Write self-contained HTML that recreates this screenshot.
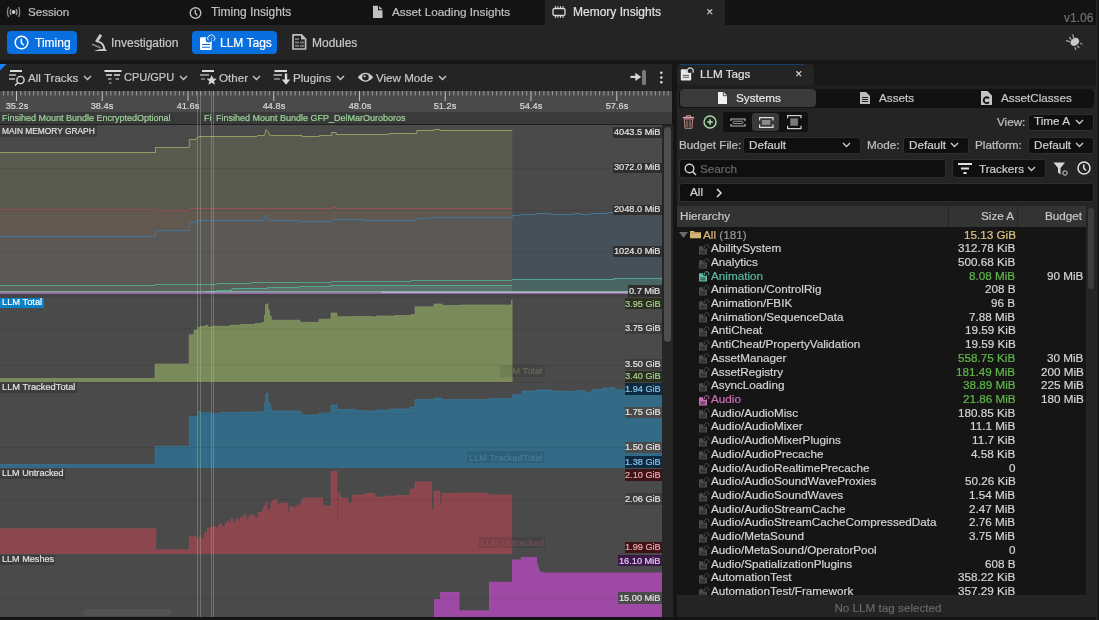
<!DOCTYPE html><html><head><meta charset="utf-8"><style>
html,body{margin:0;padding:0;width:1099px;height:620px;overflow:hidden;background:#151515;}
body{position:relative;font-family:"Liberation Sans",sans-serif;}
.t{position:absolute;white-space:nowrap;line-height:1;will-change:transform;-webkit-text-stroke:0.2px currentColor;}
.b{position:absolute;}
svg{position:absolute;overflow:visible;}
</style></head><body>
<div class="b" style="left:0px;top:0px;width:1099px;height:25px;background:#131313;"></div>
<div class="b" style="left:545px;top:0px;width:180px;height:25px;background:#242424;"></div>
<svg style="left:6px;top:6px;" width="16" height="12" viewBox="0 0 16 12"><circle cx="7.56" cy="6" r="1.9" fill="#cccccc"/><path d="M5 3 Q3.2 6 5 9 M10.1 3 Q11.9 6 10.1 9" stroke="#9a9a9a" stroke-width="1.3" fill="none"/><path d="M2.6 1 Q0.2 6 2.6 11 M12.5 1 Q14.9 6 12.5 11" stroke="#8a8a8a" stroke-width="1.3" fill="none"/></svg>
<div class="t" style="left:28.4px;top:6.38px;font-size:11.6px;color:#c0c0c0;">Session</div>
<svg style="left:189px;top:6.5px;" width="13" height="13" viewBox="0 0 13 13"><circle cx="6.5" cy="6" r="5.3" stroke="#bdbdbd" stroke-width="1.4" fill="none"/><path d="M6.3 2.8 V6.3 L8.3 8.4" stroke="#bdbdbd" stroke-width="1.4" fill="none"/></svg>
<div class="t" style="left:210.5px;top:6.04px;font-size:12px;color:#c0c0c0;">Timing Insights</div>
<svg style="left:372.5px;top:5px;" width="10" height="13" viewBox="0 0 10 13"><path d="M0 0.8 H5 V5.3 H9.5 V12.9 H0 Z" fill="#c0c0c0"/><path d="M6.1 0.9 L9.5 4.3 H6.1 Z" fill="#c0c0c0"/></svg>
<div class="t" style="left:391.5px;top:6.25px;font-size:11.75px;color:#c0c0c0;">Asset Loading Insights</div>
<svg style="left:552px;top:6px;" width="14" height="12" viewBox="0 0 14 12"><rect x="1" y="2.5" width="12" height="7" rx="1.5" stroke="#dcdcdc" stroke-width="1.3" fill="none"/><path d="M3.5 0 V2 M6 0 V2 M8.5 0 V2 M11 0 V2 M3.5 10 V12 M6 10 V12 M8.5 10 V12 M11 10 V12" stroke="#dcdcdc" stroke-width="0.9"/></svg>
<div class="t" style="left:572.7px;top:6.04px;font-size:12px;color:#e0e0e0;">Memory Insights</div>
<div class="t" style="left:706px;top:7.58px;font-size:9px;color:#d0d0d0;">&#x2715;</div>
<div class="t" style="left:1064px;top:11.84px;font-size:12px;color:#707070;">v1.06</div>
<div class="b" style="left:0px;top:25px;width:1099px;height:35px;background:#242424;"></div>
<div class="b" style="left:0px;top:60px;width:1099px;height:4px;background:#171717;"></div>
<div class="b" style="left:7px;top:30.5px;width:70px;height:23.5px;background:#0a6fde;border-radius:4px;"></div>
<svg style="left:14px;top:35px;" width="15" height="15" viewBox="0 0 15 15"><circle cx="7.5" cy="7.5" r="6.3" stroke="#fff" stroke-width="1.5" fill="none"/><path d="M7.3 3.8 V7.8 L9.8 10.3" stroke="#fff" stroke-width="1.5" fill="none"/></svg>
<div class="t" style="left:34.5px;top:36.64px;font-size:12px;color:#ffffff;">Timing</div>
<svg style="left:90px;top:33px;" width="18" height="19" viewBox="0 0 18 19"><path d="M10.9 1.8 L6.4 9" stroke="#c8c8c8" stroke-width="3" fill="none"/><path d="M8.3 8.6 Q14.2 10 14.2 17" stroke="#c8c8c8" stroke-width="2" fill="none"/><path d="M2 11.3 L10.5 14.7" stroke="#8a8a8a" stroke-width="1.6"/><path d="M4 17.9 H16.8 L15.5 15.8 Q10 15.6 4 17.9 Z" fill="#c8c8c8"/></svg>
<div class="t" style="left:111.4px;top:36.64px;font-size:12px;color:#c8c8c8;">Investigation</div>
<div class="b" style="left:192.3px;top:30.5px;width:85px;height:23.5px;background:#0a6fde;border-radius:4px;"></div>
<svg style="left:199px;top:34px;" width="18" height="17" viewBox="0 0 18 17"><rect x="1" y="3.3" width="11.7" height="12.6" rx="1.2" fill="#fff"/><circle cx="9.6" cy="5.5" r="2.9" fill="#0a6fde"/><path d="M9.3 6.5 A3.6 3.6 0 1 1 14.8 7" stroke="#e8f0ff" stroke-width="1" fill="none"/><path d="M3 10.5 H11 M3 13.2 H11" stroke="#0a6fde" stroke-width="1.1"/></svg>
<div class="t" style="left:219.5px;top:36.64px;font-size:12px;color:#ffffff;">LLM Tags</div>
<svg style="left:291px;top:33px;" width="17" height="18" viewBox="0 0 17 18"><path d="M2 1.8 H10.5 L14.6 6 V16 H2 Z" stroke="#bdbdbd" stroke-width="1.7" fill="none" stroke-linejoin="round"/><path d="M10.2 1 V6.3 H15" fill="#bdbdbd"/><path d="M10.2 1.5 L14.8 6.2 H10.2 Z" fill="#bdbdbd"/><rect x="4" y="5.2" width="4" height="1.8" fill="#7a7a7a"/><rect x="4" y="8.6" width="4" height="1.8" fill="#7a7a7a"/><rect x="4" y="12" width="4" height="1.8" fill="#7a7a7a"/><rect x="9" y="8.6" width="4" height="1.8" fill="#7a7a7a"/><rect x="9" y="12" width="4" height="1.8" fill="#7a7a7a"/></svg>
<div class="t" style="left:312.2px;top:36.64px;font-size:12px;color:#c8c8c8;">Modules</div>
<svg style="left:1064px;top:33px;" width="20" height="18" viewBox="0 0 20 18"><ellipse cx="10.8" cy="8.8" rx="4.6" ry="3.5" transform="rotate(-35 10.8 8.8)" fill="#c8c8c8"/><path d="M8.9 2 L9.8 5.5 M5.5 4.5 L7 6.3 M2.5 7.7 L5.5 8.7 M16.5 10.5 L18 11 M13.5 13 L14.8 14.5 M11 14.5 L11.8 16.5" stroke="#a0a0a0" stroke-width="1.3" stroke-linecap="round"/></svg>
<div class="b" style="left:0px;top:64px;width:672px;height:27px;background:#242424;"></div>
<svg style="left:0px;top:64px;" width="7" height="7" viewBox="0 0 7 7"><path d="M0 0 H6.5 L0 6.5 Z" fill="#1a7ff0"/></svg>
<svg style="left:8px;top:69px;" width="18" height="17" viewBox="0 0 18 17"><path d="M2 2 H14" stroke="#dcdcdc" stroke-width="2"/><path d="M1 6 H8 M1 10 H7" stroke="#9a9a9a" stroke-width="2"/><circle cx="12.5" cy="11" r="3.6" stroke="#dcdcdc" stroke-width="1.4" fill="none"/><path d="M10 13.5 L7 16.5" stroke="#dcdcdc" stroke-width="1.5"/></svg>
<div class="t" style="left:28px;top:71.98px;font-size:11.6px;color:#c8c8c8;">All Tracks</div>
<svg style="left:83px;top:75px;" width="9" height="6" viewBox="0 0 9 6"><path d="M1 1 L4.5 4.5 L8 1" stroke="#c8c8c8" stroke-width="1.4" fill="none"/></svg>
<svg style="left:104px;top:69px;" width="19" height="17" viewBox="0 0 19 17"><path d="M0.5 2 H17.5" stroke="#dcdcdc" stroke-width="2"/><path d="M2 6 H8 M10 6 H16" stroke="#b0b0b0" stroke-width="2"/><path d="M4 10 H7.5 M11.5 10 H15" stroke="#8a8a8a" stroke-width="2"/><path d="M5 14 H7.5" stroke="#707070" stroke-width="2"/></svg>
<div class="t" style="left:123.8px;top:72.49px;font-size:11px;color:#c8c8c8;">CPU/GPU</div>
<svg style="left:178.5px;top:75px;" width="9" height="6" viewBox="0 0 9 6"><path d="M1 1 L4.5 4.5 L8 1" stroke="#c8c8c8" stroke-width="1.4" fill="none"/></svg>
<svg style="left:200px;top:69px;" width="19" height="17" viewBox="0 0 19 17"><path d="M2 2 H14" stroke="#dcdcdc" stroke-width="2"/><path d="M0 6 H9" stroke="#8a8a8a" stroke-width="2"/><path d="M1 10 H5" stroke="#707070" stroke-width="2"/><path d="M11.7 6 L13.2 9.5 L16.8 9.8 L14 12.2 L15 15.8 L11.7 13.8 L8.4 15.8 L9.4 12.2 L6.6 9.8 L10.2 9.5 Z" fill="#d4d4d4"/></svg>
<div class="t" style="left:218.8px;top:71.98px;font-size:11.6px;color:#c8c8c8;">Other</div>
<svg style="left:252.2px;top:75px;" width="9" height="6" viewBox="0 0 9 6"><path d="M1 1 L4.5 4.5 L8 1" stroke="#c8c8c8" stroke-width="1.4" fill="none"/></svg>
<svg style="left:273px;top:69px;" width="18" height="18" viewBox="0 0 18 18"><path d="M1.5 2 H14" stroke="#dcdcdc" stroke-width="2"/><path d="M0.5 6 H9" stroke="#9a9a9a" stroke-width="2"/><path d="M1 10 H7" stroke="#7a7a7a" stroke-width="2"/><rect x="11.8" y="4.5" width="2.4" height="7" fill="#dcdcdc"/><path d="M8.8 10.5 H17.2 L13 15.8 Z" fill="#dcdcdc"/></svg>
<div class="t" style="left:292.7px;top:71.98px;font-size:11.6px;color:#c8c8c8;">Plugins</div>
<svg style="left:336px;top:75px;" width="9" height="6" viewBox="0 0 9 6"><path d="M1 1 L4.5 4.5 L8 1" stroke="#c8c8c8" stroke-width="1.4" fill="none"/></svg>
<svg style="left:357px;top:71px;" width="18" height="13" viewBox="0 0 18 13"><path d="M0.8 6.3 Q8.5 -2.6 16.2 6.3 Q8.5 15.2 0.8 6.3 Z" fill="#d0d0d0"/><circle cx="8.5" cy="6.3" r="3.3" fill="#242424"/><circle cx="7.6" cy="5.2" r="1" fill="#d0d0d0"/></svg>
<div class="t" style="left:376.4px;top:71.98px;font-size:11.6px;color:#c8c8c8;">View Mode</div>
<svg style="left:438px;top:75px;" width="9" height="6" viewBox="0 0 9 6"><path d="M1 1 L4.5 4.5 L8 1" stroke="#c8c8c8" stroke-width="1.4" fill="none"/></svg>
<svg style="left:629px;top:69px;" width="18" height="17" viewBox="0 0 18 17"><rect x="1.5" y="6.8" width="6" height="2.2" fill="#d8d8d8"/><path d="M6.3 3.7 L12.2 7.9 L6.3 12.1 Z" fill="#d8d8d8"/><rect x="13" y="1" width="4" height="15" rx="1.5" fill="#7a7a7a"/></svg>
<svg style="left:659px;top:70px;" width="5" height="15" viewBox="0 0 5 15"><circle cx="2.3" cy="2.8" r="1.3" fill="#dcdcdc"/><circle cx="2.3" cy="7.5" r="1.3" fill="#dcdcdc"/><circle cx="2.3" cy="12.2" r="1.3" fill="#dcdcdc"/></svg>
<div class="b" style="left:0px;top:91px;width:672px;height:21px;background:#4a4a4a;"></div>
<svg style="left:0px;top:91px;" width="672" height="21" viewBox="0 0 672 21"><rect x="3.14" y="0" width="1" height="4.5" fill="#9a9a9a"/><rect x="7.43" y="0" width="1" height="4.5" fill="#9a9a9a"/><rect x="11.71" y="0" width="1" height="4.5" fill="#9a9a9a"/><rect x="16.00" y="0" width="1" height="10" fill="#c0c0c0"/><rect x="20.29" y="0" width="1" height="4.5" fill="#9a9a9a"/><rect x="24.57" y="0" width="1" height="4.5" fill="#9a9a9a"/><rect x="28.86" y="0" width="1" height="4.5" fill="#9a9a9a"/><rect x="33.15" y="0" width="1" height="4.5" fill="#9a9a9a"/><rect x="37.44" y="0" width="1" height="4.5" fill="#9a9a9a"/><rect x="41.72" y="0" width="1" height="4.5" fill="#9a9a9a"/><rect x="46.01" y="0" width="1" height="4.5" fill="#9a9a9a"/><rect x="50.30" y="0" width="1" height="4.5" fill="#9a9a9a"/><rect x="54.59" y="0" width="1" height="4.5" fill="#9a9a9a"/><rect x="58.88" y="0" width="1" height="4.5" fill="#9a9a9a"/><rect x="63.16" y="0" width="1" height="4.5" fill="#9a9a9a"/><rect x="67.45" y="0" width="1" height="4.5" fill="#9a9a9a"/><rect x="71.74" y="0" width="1" height="4.5" fill="#9a9a9a"/><rect x="76.02" y="0" width="1" height="4.5" fill="#9a9a9a"/><rect x="80.31" y="0" width="1" height="4.5" fill="#9a9a9a"/><rect x="84.60" y="0" width="1" height="4.5" fill="#9a9a9a"/><rect x="88.89" y="0" width="1" height="4.5" fill="#9a9a9a"/><rect x="93.17" y="0" width="1" height="4.5" fill="#9a9a9a"/><rect x="97.46" y="0" width="1" height="4.5" fill="#9a9a9a"/><rect x="101.75" y="0" width="1" height="10" fill="#c0c0c0"/><rect x="106.04" y="0" width="1" height="4.5" fill="#9a9a9a"/><rect x="110.32" y="0" width="1" height="4.5" fill="#9a9a9a"/><rect x="114.61" y="0" width="1" height="4.5" fill="#9a9a9a"/><rect x="118.90" y="0" width="1" height="4.5" fill="#9a9a9a"/><rect x="123.19" y="0" width="1" height="4.5" fill="#9a9a9a"/><rect x="127.47" y="0" width="1" height="4.5" fill="#9a9a9a"/><rect x="131.76" y="0" width="1" height="4.5" fill="#9a9a9a"/><rect x="136.05" y="0" width="1" height="4.5" fill="#9a9a9a"/><rect x="140.34" y="0" width="1" height="4.5" fill="#9a9a9a"/><rect x="144.62" y="0" width="1" height="4.5" fill="#9a9a9a"/><rect x="148.91" y="0" width="1" height="4.5" fill="#9a9a9a"/><rect x="153.20" y="0" width="1" height="4.5" fill="#9a9a9a"/><rect x="157.49" y="0" width="1" height="4.5" fill="#9a9a9a"/><rect x="161.77" y="0" width="1" height="4.5" fill="#9a9a9a"/><rect x="166.06" y="0" width="1" height="4.5" fill="#9a9a9a"/><rect x="170.35" y="0" width="1" height="4.5" fill="#9a9a9a"/><rect x="174.64" y="0" width="1" height="4.5" fill="#9a9a9a"/><rect x="178.92" y="0" width="1" height="4.5" fill="#9a9a9a"/><rect x="183.21" y="0" width="1" height="4.5" fill="#9a9a9a"/><rect x="187.50" y="0" width="1" height="10" fill="#c0c0c0"/><rect x="191.79" y="0" width="1" height="4.5" fill="#9a9a9a"/><rect x="196.07" y="0" width="1" height="4.5" fill="#9a9a9a"/><rect x="200.36" y="0" width="1" height="4.5" fill="#9a9a9a"/><rect x="204.65" y="0" width="1" height="4.5" fill="#9a9a9a"/><rect x="208.94" y="0" width="1" height="4.5" fill="#9a9a9a"/><rect x="213.22" y="0" width="1" height="4.5" fill="#9a9a9a"/><rect x="217.51" y="0" width="1" height="4.5" fill="#9a9a9a"/><rect x="221.80" y="0" width="1" height="4.5" fill="#9a9a9a"/><rect x="226.09" y="0" width="1" height="4.5" fill="#9a9a9a"/><rect x="230.37" y="0" width="1" height="4.5" fill="#9a9a9a"/><rect x="234.66" y="0" width="1" height="4.5" fill="#9a9a9a"/><rect x="238.95" y="0" width="1" height="4.5" fill="#9a9a9a"/><rect x="243.24" y="0" width="1" height="4.5" fill="#9a9a9a"/><rect x="247.52" y="0" width="1" height="4.5" fill="#9a9a9a"/><rect x="251.81" y="0" width="1" height="4.5" fill="#9a9a9a"/><rect x="256.10" y="0" width="1" height="4.5" fill="#9a9a9a"/><rect x="260.39" y="0" width="1" height="4.5" fill="#9a9a9a"/><rect x="264.67" y="0" width="1" height="4.5" fill="#9a9a9a"/><rect x="268.96" y="0" width="1" height="4.5" fill="#9a9a9a"/><rect x="273.25" y="0" width="1" height="10" fill="#c0c0c0"/><rect x="277.54" y="0" width="1" height="4.5" fill="#9a9a9a"/><rect x="281.82" y="0" width="1" height="4.5" fill="#9a9a9a"/><rect x="286.11" y="0" width="1" height="4.5" fill="#9a9a9a"/><rect x="290.40" y="0" width="1" height="4.5" fill="#9a9a9a"/><rect x="294.69" y="0" width="1" height="4.5" fill="#9a9a9a"/><rect x="298.97" y="0" width="1" height="4.5" fill="#9a9a9a"/><rect x="303.26" y="0" width="1" height="4.5" fill="#9a9a9a"/><rect x="307.55" y="0" width="1" height="4.5" fill="#9a9a9a"/><rect x="311.84" y="0" width="1" height="4.5" fill="#9a9a9a"/><rect x="316.12" y="0" width="1" height="4.5" fill="#9a9a9a"/><rect x="320.41" y="0" width="1" height="4.5" fill="#9a9a9a"/><rect x="324.70" y="0" width="1" height="4.5" fill="#9a9a9a"/><rect x="328.99" y="0" width="1" height="4.5" fill="#9a9a9a"/><rect x="333.27" y="0" width="1" height="4.5" fill="#9a9a9a"/><rect x="337.56" y="0" width="1" height="4.5" fill="#9a9a9a"/><rect x="341.85" y="0" width="1" height="4.5" fill="#9a9a9a"/><rect x="346.14" y="0" width="1" height="4.5" fill="#9a9a9a"/><rect x="350.42" y="0" width="1" height="4.5" fill="#9a9a9a"/><rect x="354.71" y="0" width="1" height="4.5" fill="#9a9a9a"/><rect x="359.00" y="0" width="1" height="10" fill="#c0c0c0"/><rect x="363.29" y="0" width="1" height="4.5" fill="#9a9a9a"/><rect x="367.57" y="0" width="1" height="4.5" fill="#9a9a9a"/><rect x="371.86" y="0" width="1" height="4.5" fill="#9a9a9a"/><rect x="376.15" y="0" width="1" height="4.5" fill="#9a9a9a"/><rect x="380.44" y="0" width="1" height="4.5" fill="#9a9a9a"/><rect x="384.72" y="0" width="1" height="4.5" fill="#9a9a9a"/><rect x="389.01" y="0" width="1" height="4.5" fill="#9a9a9a"/><rect x="393.30" y="0" width="1" height="4.5" fill="#9a9a9a"/><rect x="397.59" y="0" width="1" height="4.5" fill="#9a9a9a"/><rect x="401.87" y="0" width="1" height="4.5" fill="#9a9a9a"/><rect x="406.16" y="0" width="1" height="4.5" fill="#9a9a9a"/><rect x="410.45" y="0" width="1" height="4.5" fill="#9a9a9a"/><rect x="414.74" y="0" width="1" height="4.5" fill="#9a9a9a"/><rect x="419.02" y="0" width="1" height="4.5" fill="#9a9a9a"/><rect x="423.31" y="0" width="1" height="4.5" fill="#9a9a9a"/><rect x="427.60" y="0" width="1" height="4.5" fill="#9a9a9a"/><rect x="431.89" y="0" width="1" height="4.5" fill="#9a9a9a"/><rect x="436.17" y="0" width="1" height="4.5" fill="#9a9a9a"/><rect x="440.46" y="0" width="1" height="4.5" fill="#9a9a9a"/><rect x="444.75" y="0" width="1" height="10" fill="#c0c0c0"/><rect x="449.04" y="0" width="1" height="4.5" fill="#9a9a9a"/><rect x="453.32" y="0" width="1" height="4.5" fill="#9a9a9a"/><rect x="457.61" y="0" width="1" height="4.5" fill="#9a9a9a"/><rect x="461.90" y="0" width="1" height="4.5" fill="#9a9a9a"/><rect x="466.19" y="0" width="1" height="4.5" fill="#9a9a9a"/><rect x="470.47" y="0" width="1" height="4.5" fill="#9a9a9a"/><rect x="474.76" y="0" width="1" height="4.5" fill="#9a9a9a"/><rect x="479.05" y="0" width="1" height="4.5" fill="#9a9a9a"/><rect x="483.34" y="0" width="1" height="4.5" fill="#9a9a9a"/><rect x="487.62" y="0" width="1" height="4.5" fill="#9a9a9a"/><rect x="491.91" y="0" width="1" height="4.5" fill="#9a9a9a"/><rect x="496.20" y="0" width="1" height="4.5" fill="#9a9a9a"/><rect x="500.49" y="0" width="1" height="4.5" fill="#9a9a9a"/><rect x="504.77" y="0" width="1" height="4.5" fill="#9a9a9a"/><rect x="509.06" y="0" width="1" height="4.5" fill="#9a9a9a"/><rect x="513.35" y="0" width="1" height="4.5" fill="#9a9a9a"/><rect x="517.64" y="0" width="1" height="4.5" fill="#9a9a9a"/><rect x="521.92" y="0" width="1" height="4.5" fill="#9a9a9a"/><rect x="526.21" y="0" width="1" height="4.5" fill="#9a9a9a"/><rect x="530.50" y="0" width="1" height="10" fill="#c0c0c0"/><rect x="534.79" y="0" width="1" height="4.5" fill="#9a9a9a"/><rect x="539.07" y="0" width="1" height="4.5" fill="#9a9a9a"/><rect x="543.36" y="0" width="1" height="4.5" fill="#9a9a9a"/><rect x="547.65" y="0" width="1" height="4.5" fill="#9a9a9a"/><rect x="551.94" y="0" width="1" height="4.5" fill="#9a9a9a"/><rect x="556.22" y="0" width="1" height="4.5" fill="#9a9a9a"/><rect x="560.51" y="0" width="1" height="4.5" fill="#9a9a9a"/><rect x="564.80" y="0" width="1" height="4.5" fill="#9a9a9a"/><rect x="569.09" y="0" width="1" height="4.5" fill="#9a9a9a"/><rect x="573.38" y="0" width="1" height="4.5" fill="#9a9a9a"/><rect x="577.66" y="0" width="1" height="4.5" fill="#9a9a9a"/><rect x="581.95" y="0" width="1" height="4.5" fill="#9a9a9a"/><rect x="586.24" y="0" width="1" height="4.5" fill="#9a9a9a"/><rect x="590.52" y="0" width="1" height="4.5" fill="#9a9a9a"/><rect x="594.81" y="0" width="1" height="4.5" fill="#9a9a9a"/><rect x="599.10" y="0" width="1" height="4.5" fill="#9a9a9a"/><rect x="603.39" y="0" width="1" height="4.5" fill="#9a9a9a"/><rect x="607.67" y="0" width="1" height="4.5" fill="#9a9a9a"/><rect x="611.96" y="0" width="1" height="4.5" fill="#9a9a9a"/><rect x="616.25" y="0" width="1" height="10" fill="#c0c0c0"/><rect x="620.54" y="0" width="1" height="4.5" fill="#9a9a9a"/><rect x="624.82" y="0" width="1" height="4.5" fill="#9a9a9a"/><rect x="629.11" y="0" width="1" height="4.5" fill="#9a9a9a"/><rect x="633.40" y="0" width="1" height="4.5" fill="#9a9a9a"/><rect x="637.69" y="0" width="1" height="4.5" fill="#9a9a9a"/><rect x="641.97" y="0" width="1" height="4.5" fill="#9a9a9a"/><rect x="646.26" y="0" width="1" height="4.5" fill="#9a9a9a"/><rect x="650.55" y="0" width="1" height="4.5" fill="#9a9a9a"/><rect x="654.84" y="0" width="1" height="4.5" fill="#9a9a9a"/><rect x="659.12" y="0" width="1" height="4.5" fill="#9a9a9a"/><rect x="663.41" y="0" width="1" height="4.5" fill="#9a9a9a"/><rect x="667.70" y="0" width="1" height="4.5" fill="#9a9a9a"/></svg>
<div class="t" style="left:-183.50px;width:400px;text-align:center;top:101.61px;font-size:9.2px;color:#d8d8d8;">35.2s</div>
<div class="t" style="left:-97.75px;width:400px;text-align:center;top:101.61px;font-size:9.2px;color:#d8d8d8;">38.4s</div>
<div class="t" style="left:-12.00px;width:400px;text-align:center;top:101.61px;font-size:9.2px;color:#d8d8d8;">41.6s</div>
<div class="t" style="left:73.75px;width:400px;text-align:center;top:101.61px;font-size:9.2px;color:#d8d8d8;">44.8s</div>
<div class="t" style="left:159.50px;width:400px;text-align:center;top:101.61px;font-size:9.2px;color:#d8d8d8;">48.0s</div>
<div class="t" style="left:245.25px;width:400px;text-align:center;top:101.61px;font-size:9.2px;color:#d8d8d8;">51.2s</div>
<div class="t" style="left:331.00px;width:400px;text-align:center;top:101.61px;font-size:9.2px;color:#d8d8d8;">54.4s</div>
<div class="t" style="left:416.75px;width:400px;text-align:center;top:101.61px;font-size:9.2px;color:#d8d8d8;">57.6s</div>
<div class="b" style="left:0px;top:112px;width:672px;height:11.5px;background:#3a3a3a;"></div>
<div class="b" style="left:0px;top:123.5px;width:672px;height:1.5px;background:#1e1e1e;"></div>
<div class="t" style="left:2px;top:113.58px;font-size:9px;color:#9cd49a;">Finsihed Mount Bundle EncryptedOptional</div>
<div class="t" style="left:203.6px;top:113.58px;font-size:9px;color:#9cd49a;">Fi</div>
<div class="t" style="left:216px;top:113.58px;font-size:9px;color:#9cd49a;">Finsihed Mount Bundle GFP_DelMarOuroboros</div>
<div class="b" style="left:0px;top:125px;width:662px;height:492px;background:#4a4a4a;"></div>
<svg style="left:0px;top:125px;" width="662" height="492" viewBox="0 0 662 492"><polygon points="0.0,166.5 0.0,27.0 155.5,27.0 155.5,22.4 189.3,22.4 189.3,14.0 196.0,14.0 197.0,12.5 200.0,11.0 257.0,11.0 257.4,10.5 264.5,10.5 266.0,4.7 268.0,6.0 270.0,10.0 302.0,10.0 302.0,11.3 319.3,11.3 319.3,10.0 331.7,10.0 331.7,7.2 336.3,7.2 336.3,9.0 389.0,9.0 389.0,8.5 410.6,8.5 410.6,8.0 416.8,8.0 416.8,5.5 433.9,5.5 433.9,4.5 440.0,4.5 440.0,5.3 512.3,5.3 512.3,166.5" fill="#575a4d" /><polygon points="0.0,166.5 0.0,84.5 155.0,84.5 155.0,85.0 189.3,85.0 189.3,83.6 331.0,83.6 332.0,82.4 337.0,82.4 337.0,83.4 512.3,83.3 512.3,166.5" fill="#615850" /><polygon points="0.0,166.5 0.0,111.3 155.5,111.3 155.5,105.6 189.3,105.6 189.3,97.2 197.0,97.2 197.0,95.0 264.0,95.0 265.5,89.2 268.0,94.0 270.0,95.2 299.0,95.2 299.0,96.2 331.7,96.2 331.7,94.5 362.7,94.5 362.7,95.3 415.3,95.3 415.3,93.3 430.8,93.3 430.8,92.3 512.3,92.0 512.3,166.5" fill="#5b5956" /><polygon points="512.3,166.5 512.3,92.0 512.3,90.5 520.7,90.5 520.7,89.2 536.0,89.2 536.0,88.1 550.8,88.1 550.8,89.3 574.2,89.3 574.2,88.5 580.8,88.5 580.8,89.5 590.6,89.5 590.6,88.2 608.0,88.2 608.0,87.6 662.0,87.6 662.0,166.5" fill="#465058" /><polygon points="0.0,166.5 0.0,160.5 155.0,160.5 155.0,159.5 190.0,159.5 190.0,159.0 217.0,159.0 217.0,158.5 251.0,158.5 251.0,157.4 331.7,157.4 331.7,156.3 411.0,156.3 411.0,155.3 512.3,155.3 512.3,166.5" fill="#5a6058" /><polygon points="204.6,166.5 204.6,166.4 217.0,166.4 217.0,165.0 232.0,165.0 232.0,163.7 267.5,163.7 267.5,162.8 299.0,162.8 299.0,161.2 330.0,161.2 330.0,160.6 512.3,160.6 512.3,166.5" fill="#5a7068" /><polygon points="512.3,166.5 512.3,154.6 614.0,154.6 614.0,153.6 662.0,153.6 662.0,166.5" fill="#4a6464" /><polyline points="0.0,27.5 155.5,27.5 155.5,22.5 189.3,22.5 189.3,14.5 196.0,14.5 197.0,12.5 200.0,11.5 257.0,11.5 257.4,10.5 264.5,10.5 266.0,4.5 268.0,6.5 270.0,10.5 302.0,10.5 302.0,11.5 319.3,11.5 319.3,10.5 331.7,10.5 331.7,7.5 336.3,7.5 336.3,9.5 389.0,9.5 389.0,8.5 410.6,8.5 410.6,8.5 416.8,8.5 416.8,5.5 433.9,5.5 433.9,4.5 440.0,4.5 440.0,5.5 512.3,5.5" stroke="#9a9a60" stroke-width="1" fill="none"/><polyline points="0.0,84.5 155.0,84.5 155.0,85.5 189.3,85.5 189.3,83.5 331.0,83.5 332.0,82.5 337.0,82.5 337.0,83.5 512.3,83.5" stroke="#94505a" stroke-width="1" fill="none"/><polyline points="0.0,111.5 155.5,111.5 155.5,105.5 189.3,105.5 189.3,97.5 197.0,97.5 197.0,95.5 264.0,95.5 265.5,89.5 268.0,94.5 270.0,95.5 299.0,95.5 299.0,96.5 331.7,96.5 331.7,94.5 362.7,94.5 362.7,95.5 415.3,95.5 415.3,93.5 430.8,93.5 430.8,92.5 512.3,92.5 512.3,90.5 520.7,90.5 520.7,89.5 536.0,89.5 536.0,88.5 550.8,88.5 550.8,89.5 574.2,89.5 574.2,88.5 580.8,88.5 580.8,89.5 590.6,89.5 590.6,88.5 608.0,88.5 608.0,87.5 662.0,87.5" stroke="#40749a" stroke-width="1" fill="none"/><polyline points="0.0,160.5 155.0,160.5 155.0,159.5 190.0,159.5 190.0,159.5 217.0,159.5 217.0,158.5 251.0,158.5 251.0,157.5 331.7,157.5 331.7,156.5 411.0,156.5 411.0,155.5 512.3,155.5" stroke="#50a08a" stroke-width="1" fill="none"/><polyline points="512.3,154.5 614.0,154.5 614.0,153.5 662.0,153.5" stroke="#52a48e" stroke-width="1.1" fill="none"/><polyline points="204.6,166.5 217.0,166.5 217.0,165.5 232.0,165.5 232.0,163.5 267.5,163.5 267.5,162.5 299.0,162.5 299.0,161.5 330.0,161.5 330.0,160.5 512.3,160.5" stroke="#52a890" stroke-width="1" fill="none"/><rect x="0" y="43" width="662" height="1" fill="rgba(0,0,0,0.06)"/><rect x="0" y="85" width="662" height="1" fill="rgba(0,0,0,0.06)"/><rect x="0" y="127" width="662" height="1" fill="rgba(0,0,0,0.06)"/><rect x="0" y="166.39999999999998" width="628" height="1.2" fill="#a0d0c8"/><rect x="381" y="166.8" width="247" height="1" fill="#c4e0e0"/><rect x="0" y="167.7" width="628" height="1.5" fill="#9a62a8"/><rect x="0" y="169.2" width="662" height="3.3" fill="#444444"/><polygon points="0.0,257.0 0.0,253.5 155.0,253.5 155.0,239.0 189.2,239.0 189.2,209.7 194.0,209.7 194.0,205.0 198.0,205.0 198.0,202.5 200.0,202.5 200.0,201.5 205.0,201.5 205.0,200.5 208.0,200.5 208.0,202.0 212.0,202.0 212.0,201.3 230.0,201.3 230.0,200.3 240.0,200.3 240.0,199.5 255.0,199.5 255.0,198.5 262.0,198.5 262.0,197.5 264.5,197.5 264.5,190.0 265.5,190.0 265.5,179.5 267.0,179.5 267.0,178.7 268.0,178.7 268.0,185.0 269.5,185.0 269.5,191.0 271.3,191.0 271.3,195.2 300.0,195.2 300.0,197.3 319.0,197.3 319.0,194.2 331.0,194.2 331.0,188.0 337.0,188.0 337.0,191.7 350.0,191.7 350.0,191.5 373.0,191.5 373.0,192.0 376.0,192.0 376.0,191.0 395.0,191.0 395.0,190.5 411.0,190.5 411.0,189.6 415.0,189.6 415.0,181.8 434.0,181.8 434.0,179.0 442.0,179.0 442.0,180.5 460.0,180.5 460.0,180.0 511.5,180.0 511.5,175.0 512.5,175.0 512.5,257.0" fill="#7a8a5a" /><polyline points="0.0,253.5 155.0,253.5 155.0,239.0 189.2,239.0 189.2,209.7 194.0,209.7 194.0,205.0 198.0,205.0 198.0,202.5 200.0,202.5 200.0,201.5 205.0,201.5 205.0,200.5 208.0,200.5 208.0,202.0 212.0,202.0 212.0,201.3 230.0,201.3 230.0,200.3 240.0,200.3 240.0,199.5 255.0,199.5 255.0,198.5 262.0,198.5 262.0,197.5 264.5,197.5 264.5,190.0 265.5,190.0 265.5,179.5 267.0,179.5 267.0,178.7 268.0,178.7 268.0,185.0 269.5,185.0 269.5,191.0 271.3,191.0 271.3,195.2 300.0,195.2 300.0,197.3 319.0,197.3 319.0,194.2 331.0,194.2 331.0,188.0 337.0,188.0 337.0,191.7 350.0,191.7 350.0,191.5 373.0,191.5 373.0,192.0 376.0,192.0 376.0,191.0 395.0,191.0 395.0,190.5 411.0,190.5 411.0,189.6 415.0,189.6 415.0,181.8 434.0,181.8 434.0,179.0 442.0,179.0 442.0,180.5 460.0,180.5 460.0,180.0 511.5,180.0 511.5,175.0" stroke="#8fa36a" stroke-width="1" fill="none" opacity="0.55"/><rect x="0" y="203.5" width="662" height="1" fill="rgba(0,0,0,0.07)"/><rect x="0" y="239.5" width="662" height="1" fill="rgba(0,0,0,0.07)"/><rect x="0" y="257" width="662" height="1" fill="rgba(0,0,0,0.07)"/><polygon points="0.0,343.0 0.0,339.3 155.0,339.3 155.0,321.3 189.2,321.3 189.2,291.5 198.0,291.5 198.0,286.2 200.0,286.2 200.0,287.7 211.0,287.7 211.0,288.5 220.0,288.5 220.0,287.5 240.0,287.5 240.0,287.0 262.0,287.0 262.0,286.5 264.5,286.5 264.5,278.0 265.5,278.0 265.5,269.0 267.0,269.0 267.0,268.3 268.0,268.3 268.0,278.0 270.0,278.0 270.0,281.0 271.0,281.0 271.0,286.0 300.0,286.0 300.0,287.5 302.0,287.5 302.0,290.0 310.0,290.0 310.0,289.5 319.0,289.5 319.0,288.0 331.0,288.0 331.0,280.0 337.0,280.0 337.0,284.5 355.0,284.5 355.0,285.5 365.0,285.5 365.0,286.0 376.0,286.0 376.0,285.0 390.0,285.0 390.0,284.0 410.0,284.0 410.0,282.0 415.0,282.0 415.0,274.5 434.0,274.5 434.0,273.0 442.0,273.0 442.0,274.5 490.0,274.5 490.0,273.5 512.3,273.5 512.3,269.4 522.0,269.4 522.0,266.0 536.0,266.0 536.0,265.0 552.0,265.0 552.0,266.0 565.0,266.0 565.0,266.5 576.0,266.5 576.0,265.5 585.0,265.5 585.0,267.0 592.0,267.0 592.0,264.5 603.0,264.5 603.0,263.0 610.0,263.0 610.0,262.5 615.0,262.5 615.0,265.0 620.0,265.0 620.0,264.0 662.0,264.0 662.0,343.0" fill="#336b87" /><polyline points="0.0,339.3 155.0,339.3 155.0,321.3 189.2,321.3 189.2,291.5 198.0,291.5 198.0,286.2 200.0,286.2 200.0,287.7 211.0,287.7 211.0,288.5 220.0,288.5 220.0,287.5 240.0,287.5 240.0,287.0 262.0,287.0 262.0,286.5 264.5,286.5 264.5,278.0 265.5,278.0 265.5,269.0 267.0,269.0 267.0,268.3 268.0,268.3 268.0,278.0 270.0,278.0 270.0,281.0 271.0,281.0 271.0,286.0 300.0,286.0 300.0,287.5 302.0,287.5 302.0,290.0 310.0,290.0 310.0,289.5 319.0,289.5 319.0,288.0 331.0,288.0 331.0,280.0 337.0,280.0 337.0,284.5 355.0,284.5 355.0,285.5 365.0,285.5 365.0,286.0 376.0,286.0 376.0,285.0 390.0,285.0 390.0,284.0 410.0,284.0 410.0,282.0 415.0,282.0 415.0,274.5 434.0,274.5 434.0,273.0 442.0,273.0 442.0,274.5 490.0,274.5 490.0,273.5 512.3,273.5 512.3,269.4 522.0,269.4 522.0,266.0 536.0,266.0 536.0,265.0 552.0,265.0 552.0,266.0 565.0,266.0 565.0,266.5 576.0,266.5 576.0,265.5 585.0,265.5 585.0,267.0 592.0,267.0 592.0,264.5 603.0,264.5 603.0,263.0 610.0,263.0 610.0,262.5 615.0,262.5 615.0,265.0 620.0,265.0 620.0,264.0" stroke="#3c7c9c" stroke-width="1" fill="none" opacity="0.55"/><rect x="0" y="288.5" width="662" height="1" fill="rgba(0,0,0,0.07)"/><rect x="0" y="322" width="662" height="1" fill="rgba(0,0,0,0.07)"/><polygon points="0.0,429.0 0.0,403.8 155.8,403.8 155.8,424.7 189.2,424.7 189.2,411.8 196.5,411.8 196.5,414.0 198.0,414.0 198.0,415.0 199.5,415.0 199.5,410.3 201.0,410.3 201.0,413.3 204.5,413.3 204.5,408.0 206.0,408.0 206.0,407.0 207.5,407.0 207.5,403.0 209.0,403.0 209.0,408.0 210.0,408.0 210.0,403.0 211.0,403.0 211.0,402.0 214.0,402.0 214.0,402.0 216.0,402.0 216.0,405.0 218.0,405.0 218.0,401.0 219.5,401.0 219.5,399.0 222.0,399.0 222.0,402.0 225.0,402.0 225.0,399.0 227.0,399.0 227.0,396.0 229.0,396.0 229.0,401.0 230.0,401.0 230.0,397.0 231.0,397.0 231.0,394.0 233.0,394.0 233.0,398.0 235.0,398.0 235.0,396.0 236.0,396.0 236.0,394.0 238.0,394.0 238.0,396.0 240.0,396.0 240.0,393.0 242.0,393.0 242.0,391.5 243.0,391.5 243.0,396.0 244.0,396.0 244.0,390.0 246.0,390.0 246.0,397.0 247.0,397.0 247.0,394.0 249.0,394.0 249.0,392.0 250.0,392.0 250.0,390.0 254.0,390.0 254.0,392.0 256.0,392.0 256.0,394.0 258.0,394.0 258.0,387.5 262.0,387.5 262.0,386.0 263.0,386.0 263.0,384.0 264.0,384.0 264.0,381.0 266.0,381.0 266.0,376.5 267.0,376.5 267.0,401.0 268.0,401.0 268.0,385.0 270.0,385.0 270.0,383.0 271.0,383.0 271.0,378.0 272.0,378.0 272.0,376.0 274.0,376.0 274.0,375.0 275.0,375.0 275.0,374.5 277.0,374.5 277.0,378.0 278.0,378.0 278.0,379.0 279.0,379.0 279.0,384.0 280.0,384.0 280.0,381.0 281.0,381.0 281.0,378.0 283.0,378.0 283.0,379.0 284.0,379.0 284.0,378.0 287.0,378.0 287.0,379.0 288.0,379.0 288.0,388.0 290.0,388.0 290.0,382.0 292.0,382.0 292.0,381.0 293.0,381.0 293.0,384.0 295.0,384.0 295.0,382.0 297.0,382.0 297.0,380.0 299.0,380.0 299.0,383.0 300.0,383.0 300.0,379.0 301.5,379.0 301.5,374.0 302.5,374.0 302.5,381.0 303.5,381.0 303.5,373.0 322.6,373.0 322.6,381.0 331.1,381.0 331.1,346.2 337.0,346.2 337.0,399.0 338.6,399.0 338.6,368.0 340.0,368.0 340.0,372.0 342.0,372.0 342.0,373.0 348.0,373.0 348.0,378.0 352.0,378.0 352.0,370.0 365.0,370.0 365.0,368.5 375.0,368.5 375.0,372.0 386.0,372.0 386.0,371.0 396.0,371.0 396.0,370.5 410.0,370.5 410.0,364.0 415.0,364.0 415.0,356.8 431.4,356.8 431.4,385.0 434.0,385.0 434.0,366.0 440.0,366.0 440.0,380.0 442.0,380.0 442.0,368.5 458.0,368.5 458.0,368.0 488.0,368.0 488.0,369.5 512.2,369.5 512.2,429.0" fill="#8c464e" /><polyline points="0.0,403.8 155.8,403.8 155.8,424.7 189.2,424.7 189.2,411.8 196.5,411.8 196.5,414.0 198.0,414.0 198.0,415.0 199.5,415.0 199.5,410.3 201.0,410.3 201.0,413.3 204.5,413.3 204.5,408.0 206.0,408.0 206.0,407.0 207.5,407.0 207.5,403.0 209.0,403.0 209.0,408.0 210.0,408.0 210.0,403.0 211.0,403.0 211.0,402.0 214.0,402.0 214.0,402.0 216.0,402.0 216.0,405.0 218.0,405.0 218.0,401.0 219.5,401.0 219.5,399.0 222.0,399.0 222.0,402.0 225.0,402.0 225.0,399.0 227.0,399.0 227.0,396.0 229.0,396.0 229.0,401.0 230.0,401.0 230.0,397.0 231.0,397.0 231.0,394.0 233.0,394.0 233.0,398.0 235.0,398.0 235.0,396.0 236.0,396.0 236.0,394.0 238.0,394.0 238.0,396.0 240.0,396.0 240.0,393.0 242.0,393.0 242.0,391.5 243.0,391.5 243.0,396.0 244.0,396.0 244.0,390.0 246.0,390.0 246.0,397.0 247.0,397.0 247.0,394.0 249.0,394.0 249.0,392.0 250.0,392.0 250.0,390.0 254.0,390.0 254.0,392.0 256.0,392.0 256.0,394.0 258.0,394.0 258.0,387.5 262.0,387.5 262.0,386.0 263.0,386.0 263.0,384.0 264.0,384.0 264.0,381.0 266.0,381.0 266.0,376.5 267.0,376.5 267.0,401.0 268.0,401.0 268.0,385.0 270.0,385.0 270.0,383.0 271.0,383.0 271.0,378.0 272.0,378.0 272.0,376.0 274.0,376.0 274.0,375.0 275.0,375.0 275.0,374.5 277.0,374.5 277.0,378.0 278.0,378.0 278.0,379.0 279.0,379.0 279.0,384.0 280.0,384.0 280.0,381.0 281.0,381.0 281.0,378.0 283.0,378.0 283.0,379.0 284.0,379.0 284.0,378.0 287.0,378.0 287.0,379.0 288.0,379.0 288.0,388.0 290.0,388.0 290.0,382.0 292.0,382.0 292.0,381.0 293.0,381.0 293.0,384.0 295.0,384.0 295.0,382.0 297.0,382.0 297.0,380.0 299.0,380.0 299.0,383.0 300.0,383.0 300.0,379.0 301.5,379.0 301.5,374.0 302.5,374.0 302.5,381.0 303.5,381.0 303.5,373.0 322.6,373.0 322.6,381.0 331.1,381.0 331.1,346.2 337.0,346.2 337.0,399.0 338.6,399.0 338.6,368.0 340.0,368.0 340.0,372.0 342.0,372.0 342.0,373.0 348.0,373.0 348.0,378.0 352.0,378.0 352.0,370.0 365.0,370.0 365.0,368.5 375.0,368.5 375.0,372.0 386.0,372.0 386.0,371.0 396.0,371.0 396.0,370.5 410.0,370.5 410.0,364.0 415.0,364.0 415.0,356.8 431.4,356.8 431.4,385.0 434.0,385.0 434.0,366.0 440.0,366.0 440.0,380.0 442.0,380.0 442.0,368.5 458.0,368.5 458.0,368.0 488.0,368.0 488.0,369.5" stroke="#a04e58" stroke-width="1" fill="none" opacity="0.55"/><rect x="0" y="374" width="662" height="1" fill="rgba(0,0,0,0.07)"/><polygon points="434.0,492.0 434.0,473.9 440.0,473.9 440.0,467.0 459.5,467.0 459.5,485.2 489.0,485.2 489.0,456.8 512.0,456.8 512.0,434.5 521.0,434.5 521.0,432.0 537.0,432.0 537.0,437.0 540.0,446.5 545.0,447.5 662.0,447.5 662.0,492.0" fill="#9e4aa4" /><rect x="0" y="473.4" width="662" height="1" fill="rgba(0,0,0,0.07)"/><rect x="197.0" y="0" width="1" height="492" fill="rgba(190,225,180,0.28)"/><rect x="200.0" y="0" width="1" height="492" fill="rgba(190,225,180,0.28)"/><rect x="211.0" y="0" width="1" height="492" fill="rgba(190,225,180,0.28)"/><rect x="213.0" y="0" width="1" height="492" fill="rgba(190,225,180,0.28)"/></svg>
<svg style="left:0px;top:91px;" width="662" height="34" viewBox="0 0 662 34"><rect x="197.0" y="0" width="1" height="34" fill="rgba(190,225,180,0.3)"/><rect x="200.0" y="0" width="1" height="34" fill="rgba(190,225,180,0.3)"/><rect x="211.0" y="0" width="1" height="34" fill="rgba(190,225,180,0.3)"/><rect x="213.0" y="0" width="1" height="34" fill="rgba(190,225,180,0.3)"/></svg>
<div class="b" style="left:0px;top:125px;width:96.5px;height:11.5px;background:rgba(56,56,56,0.8);"></div>
<div class="t" style="left:1.6px;top:127.29px;font-size:8.4px;color:#e0e0e0;">MAIN MEMORY GRAPH</div>
<div class="b" style="left:0px;top:297.7px;width:44px;height:10.1px;background:#0a80c8;"></div>
<div class="t" style="left:1.6px;top:297.83px;font-size:9.3px;color:#ffffff;">LLM Total</div>
<div class="b" style="left:0px;top:383px;width:76.7px;height:10.3px;background:#3c3c3c;"></div>
<div class="t" style="left:1.6px;top:383.33px;font-size:9.3px;color:#e0e0e0;">LLM TrackedTotal</div>
<div class="b" style="left:0px;top:468.8px;width:64.5px;height:10.2px;background:#3c3c3c;"></div>
<div class="t" style="left:1.6px;top:469.20px;font-size:9.1px;color:#e0e0e0;">LLM Untracked</div>
<div class="b" style="left:0px;top:554.8px;width:54.5px;height:10.2px;background:#3c3c3c;"></div>
<div class="t" style="left:1.6px;top:555.20px;font-size:9.1px;color:#e0e0e0;">LLM Meshes</div>
<div class="b" style="left:500.2px;top:365.1px;width:44.9px;height:11.8px;background:rgba(0,0,0,0.09);"></div>
<div class="t" style="left:501.8px;top:367.33px;font-size:9.3px;color:rgba(120,135,100,0.55);">LLM Total</div>
<div class="b" style="left:467.4px;top:451.4px;width:77px;height:11.6px;background:rgba(0,0,0,0.1);"></div>
<div class="t" style="left:469px;top:453.53px;font-size:9.3px;color:rgba(90,140,170,0.55);">LLM TrackedTotal</div>
<div class="b" style="left:479px;top:537px;width:66px;height:10.8px;background:rgba(0,0,0,0.1);"></div>
<div class="t" style="left:481px;top:538.73px;font-size:9.3px;color:rgba(140,90,95,0.6);">LLM Untracked</div>
<div class="b" style="left:613.4px;top:127.3px;width:48.60000000000002px;height:10.399999999999991px;background:#2e2e2e;"></div>
<div class="t" style="right:438.50px;top:127.91px;font-size:9.2px;color:#e4e4e4;">4043.5 MiB</div>
<div class="b" style="left:613.4px;top:162.7px;width:48.60000000000002px;height:10.5px;background:#2e2e2e;"></div>
<div class="t" style="right:438.50px;top:163.41px;font-size:9.2px;color:#e4e4e4;">3072.0 MiB</div>
<div class="b" style="left:613.4px;top:204.7px;width:48.60000000000002px;height:10.5px;background:#2e2e2e;"></div>
<div class="t" style="right:438.50px;top:205.41px;font-size:9.2px;color:#e4e4e4;">2048.0 MiB</div>
<div class="b" style="left:613.4px;top:246px;width:48.60000000000002px;height:11px;background:#2e2e2e;"></div>
<div class="t" style="right:438.50px;top:247.21px;font-size:9.2px;color:#e4e4e4;">1024.0 MiB</div>
<div class="b" style="left:628.4px;top:285.2px;width:33.60000000000002px;height:11.600000000000023px;background:#2e2e2e;"></div>
<div class="t" style="right:438.50px;top:287.01px;font-size:9.2px;color:#e4e4e4;">0.7 MiB</div>
<div class="b" style="left:625px;top:298px;width:37px;height:11.399999999999977px;background:#2a2e1c;"></div>
<div class="t" style="right:438.50px;top:299.61px;font-size:9.2px;color:#a8d09a;">3.95 GiB</div>
<div class="b" style="left:625px;top:323px;width:37px;height:11.199999999999989px;background:#3c3c3c;"></div>
<div class="t" style="right:438.50px;top:324.41px;font-size:9.2px;color:#e4e4e4;">3.75 GiB</div>
<div class="b" style="left:625px;top:358.9px;width:37px;height:10.900000000000034px;background:#3c3c3c;"></div>
<div class="t" style="right:438.50px;top:360.01px;font-size:9.2px;color:#e4e4e4;">3.50 GiB</div>
<div class="b" style="left:625px;top:370.5px;width:37px;height:11.600000000000023px;background:#2a2e1c;"></div>
<div class="t" style="right:438.50px;top:372.31px;font-size:9.2px;color:#a8d09a;">3.40 GiB</div>
<div class="b" style="left:625px;top:382.7px;width:37px;height:12.300000000000011px;background:#0e2a40;"></div>
<div class="t" style="right:438.50px;top:385.21px;font-size:9.2px;color:#88c4ea;">1.94 GiB</div>
<div class="b" style="left:625px;top:406.6px;width:37px;height:11.599999999999966px;background:#4a4a4a;"></div>
<div class="t" style="right:438.50px;top:408.41px;font-size:9.2px;color:#e4e4e4;">1.75 GiB</div>
<div class="b" style="left:625px;top:442px;width:37px;height:11px;background:#4a4a4a;"></div>
<div class="t" style="right:438.50px;top:443.21px;font-size:9.2px;color:#e4e4e4;">1.50 GiB</div>
<div class="b" style="left:625px;top:456.3px;width:37px;height:11.699999999999989px;background:#0e2a40;"></div>
<div class="t" style="right:438.50px;top:458.21px;font-size:9.2px;color:#88c4ea;">1.38 GiB</div>
<div class="b" style="left:625px;top:469.2px;width:37px;height:11.600000000000023px;background:#3c1418;"></div>
<div class="t" style="right:438.50px;top:471.01px;font-size:9.2px;color:#f0a8b0;">2.10 GiB</div>
<div class="b" style="left:625px;top:493px;width:37px;height:11.699999999999989px;background:#3c3c3c;"></div>
<div class="t" style="right:438.50px;top:494.91px;font-size:9.2px;color:#e4e4e4;">2.06 GiB</div>
<div class="b" style="left:625.4px;top:541.8px;width:36.60000000000002px;height:11.300000000000068px;background:#3c1418;"></div>
<div class="t" style="right:438.50px;top:543.31px;font-size:9.2px;color:#f0a8b0;">1.99 GiB</div>
<div class="b" style="left:618.3px;top:555.3px;width:43.700000000000045px;height:11.100000000000023px;background:#3a1848;"></div>
<div class="t" style="right:438.50px;top:556.61px;font-size:9.2px;color:#ecc8f4;">16.10 MiB</div>
<div class="b" style="left:618.3px;top:592px;width:43.700000000000045px;height:11.5px;background:#4a4a4a;"></div>
<div class="t" style="right:438.50px;top:593.71px;font-size:9.2px;color:#e4e4e4;">15.00 MiB</div>
<div class="b" style="left:662px;top:125px;width:10.5px;height:492px;background:#262626;"></div>
<div class="b" style="left:663.7px;top:127px;width:7.1px;height:215px;background:#4e4e4e;border-radius:3.5px;"></div>
<div class="b" style="left:83px;top:608.5px;width:89px;height:7px;background:#535353;border-radius:3.5px;"></div>
<div class="b" style="left:0px;top:617px;width:1099px;height:3px;background:#141414;"></div>
<div class="b" style="left:677px;top:64px;width:419px;height:21px;background:#181818;"></div>
<div class="b" style="left:677px;top:64px;width:137px;height:21px;background:#242424;border-radius:4px 4px 0 0;"></div>
<div class="b" style="left:680px;top:64px;width:124px;height:1px;background:#153e68;"></div>
<div class="b" style="left:677px;top:85px;width:419px;height:532px;background:#242424;"></div>
<div class="b" style="left:677px;top:85px;width:419px;height:3.5px;background:#1e1e1e;"></div>
<svg style="left:680px;top:67px;" width="15" height="15" viewBox="0 0 15 15"><rect x="0.8" y="2.2" width="10.4" height="11.3" rx="1" fill="#e8e8e8"/><circle cx="9.2" cy="3.6" r="2.5" fill="#242424"/><path d="M8 6 A3 3 0 1 1 12.8 5.6" stroke="#dcdcdc" stroke-width="1.1" fill="none"/><path d="M2.8 8.4 H9 M2.8 10.3 H9" stroke="#5a5a5a" stroke-width="1"/></svg>
<div class="t" style="left:700.3px;top:67.80px;font-size:11.7px;color:#e0e0e0;">LLM Tags</div>
<div class="t" style="left:794.5px;top:69.58px;font-size:9px;color:#d8d8d8;">&#x2715;</div>
<div class="b" style="left:679px;top:88.5px;width:415px;height:19px;background:#111111;border-radius:4px;"></div>
<div class="b" style="left:679.5px;top:88.8px;width:136.5px;height:18.5px;background:#3a3a3a;border-radius:4px;"></div>
<svg style="left:718px;top:92px;" width="9" height="12" viewBox="0 0 9 12"><path d="M0 0 H5.5 L9 3.5 V12 H0 Z" fill="#f0f0f0"/><path d="M5.3 0.2 V3.7 H8.8" stroke="#3a3a3a" stroke-width="0.9" fill="none"/></svg>
<div class="t" style="left:736.2px;top:91.60px;font-size:11.7px;color:#e8e8e8;">Systems</div>
<svg style="left:860px;top:92px;" width="10" height="12" viewBox="0 0 10 12"><path d="M0 0 H6 L10 4 V12 H0 Z" fill="#bdbdbd"/><path d="M2 5.5 H8 M2 7.5 H8 M2 9.5 H8" stroke="#111" stroke-width="0.9"/></svg>
<div class="t" style="left:879px;top:91.60px;font-size:11.7px;color:#c8c8c8;">Assets</div>
<svg style="left:981px;top:91px;" width="11" height="14" viewBox="0 0 11 14"><path d="M0 0 H6.5 L11 4.5 V14 H0 Z" fill="#c4c4c4"/><path d="M8 7.3 A3 3 0 1 0 8 11.2" stroke="#151515" stroke-width="1.9" fill="none"/></svg>
<div class="t" style="left:1000.7px;top:91.60px;font-size:11.7px;color:#c8c8c8;">AssetClasses</div>
<svg style="left:682px;top:115px;" width="13" height="14" viewBox="0 0 13 14"><path d="M0.8 2.6 H12.2" stroke="#e8a0a8" stroke-width="1.5"/><path d="M4.5 2.3 V0.8 H8.5 V2.3" stroke="#e0a0a0" stroke-width="1" fill="none"/><path d="M2.3 4 L3 13.3 H10 L10.7 4 Z" fill="#3a2c2c" stroke="#c89098" stroke-width="0.9"/><path d="M5 5.5 V12 M8 5.5 V12" stroke="#c8a070" stroke-width="0.8"/></svg>
<svg style="left:702.5px;top:115px;" width="14" height="14" viewBox="0 0 14 14"><circle cx="7" cy="7" r="6" stroke="#a8dca8" stroke-width="1.4" fill="none"/><path d="M7 4.2 V9.8 M4.2 7 H9.8" stroke="#a8dca8" stroke-width="1.6"/></svg>
<div class="b" style="left:723px;top:111.7px;width:85px;height:20.3px;background:#111111;border-radius:3px;"></div>
<div class="b" style="left:752px;top:113px;width:27px;height:18px;background:#3a3a3a;border-radius:3px;"></div>
<svg style="left:729.5px;top:117.5px;" width="16" height="9" viewBox="0 0 16 9"><path d="M1 3 V1 H15 V3 M1 6 V8 H15 V6" stroke="#b8b8b8" stroke-width="1.2" fill="none"/><rect x="3.2" y="3.2" width="9.6" height="2.4" rx="0.5" fill="none" stroke="#9a9a9a" stroke-width="1"/></svg>
<svg style="left:758.5px;top:116.5px;" width="15" height="11" viewBox="0 0 15 11"><path d="M0.6 3.5 V0.6 H14 V3.5 M0.6 7.5 V10.4 H14 V7.5" stroke="#e0e0e0" stroke-width="1.2" fill="none"/><rect x="3" y="3" width="8.4" height="4.8" fill="#8c8c8c"/></svg>
<svg style="left:786.5px;top:115px;" width="15" height="15" viewBox="0 0 15 15"><path d="M0.6 3.2 V0.6 H14 V3.2 M0.6 10.8 V13.6 H14 V10.8" stroke="#d0d0d0" stroke-width="1.2" fill="none"/><rect x="3.3" y="3.3" width="7.6" height="7.4" fill="#7a7a7a"/></svg>
<div class="t" style="left:997px;top:115.50px;font-size:11.7px;color:#c0c0c0;">View:</div>
<div class="b" style="left:1028px;top:113.5px;width:65.59999999999991px;height:17.0px;background:#0f0f0f;border-radius:3px;border:1px solid #2e2e2e;box-sizing:border-box;"></div>
<div class="t" style="left:1034px;top:115.30px;font-size:11.7px;color:#d0d0d0;">Time A</div>
<svg style="left:1074.6px;top:119.2px;" width="9" height="6" viewBox="0 0 9 6"><path d="M1 1 L4.5 4.5 L8 1" stroke="#c8c8c8" stroke-width="1.4" fill="none"/></svg>
<div class="t" style="left:679.2px;top:138.80px;font-size:11.7px;color:#c0c0c0;">Budget File:</div>
<div class="b" style="left:743.4px;top:136.6px;width:117.39999999999998px;height:17.200000000000017px;background:#0f0f0f;border-radius:3px;border:1px solid #2e2e2e;box-sizing:border-box;"></div>
<div class="t" style="left:749px;top:138.60px;font-size:11.7px;color:#d0d0d0;">Default</div>
<svg style="left:841.8px;top:142.39999999999998px;" width="9" height="6" viewBox="0 0 9 6"><path d="M1 1 L4.5 4.5 L8 1" stroke="#c8c8c8" stroke-width="1.4" fill="none"/></svg>
<div class="t" style="left:867px;top:138.80px;font-size:11.7px;color:#c0c0c0;">Mode:</div>
<div class="b" style="left:903px;top:136.6px;width:66px;height:17.200000000000017px;background:#0f0f0f;border-radius:3px;border:1px solid #2e2e2e;box-sizing:border-box;"></div>
<div class="t" style="left:909px;top:138.60px;font-size:11.7px;color:#d0d0d0;">Default</div>
<svg style="left:950px;top:142.39999999999998px;" width="9" height="6" viewBox="0 0 9 6"><path d="M1 1 L4.5 4.5 L8 1" stroke="#c8c8c8" stroke-width="1.4" fill="none"/></svg>
<div class="t" style="left:975px;top:138.80px;font-size:11.7px;color:#c0c0c0;">Platform:</div>
<div class="b" style="left:1027.6px;top:136.6px;width:66.0px;height:17.200000000000017px;background:#0f0f0f;border-radius:3px;border:1px solid #2e2e2e;box-sizing:border-box;"></div>
<div class="t" style="left:1034px;top:138.60px;font-size:11.7px;color:#d0d0d0;">Default</div>
<svg style="left:1074.6px;top:142.39999999999998px;" width="9" height="6" viewBox="0 0 9 6"><path d="M1 1 L4.5 4.5 L8 1" stroke="#c8c8c8" stroke-width="1.4" fill="none"/></svg>
<div class="b" style="left:679px;top:159px;width:267px;height:19px;background:#0f0f0f;border-radius:3px;border:1px solid #2e2e2e;box-sizing:border-box;"></div>
<svg style="left:684px;top:162.5px;" width="13" height="13" viewBox="0 0 13 13"><circle cx="5.5" cy="5.5" r="4.3" stroke="#d0d0d0" stroke-width="1.4" fill="none"/><path d="M8.6 8.6 L12 12" stroke="#d0d0d0" stroke-width="1.5"/></svg>
<div class="t" style="left:700px;top:162.60px;font-size:11.7px;color:#6a6a6a;">Search</div>
<div class="b" style="left:952px;top:159px;width:94px;height:19px;background:#0f0f0f;border-radius:3px;border:1px solid #2e2e2e;box-sizing:border-box;"></div>
<svg style="left:958px;top:163px;" width="15" height="12" viewBox="0 0 15 12"><path d="M0 1 H14 M3 5.5 H11 M5.5 10 H8.5" stroke="#e0e0e0" stroke-width="1.8"/></svg>
<div class="t" style="left:979px;top:162.60px;font-size:11.7px;color:#d0d0d0;">Trackers</div>
<svg style="left:1027px;top:166px;" width="9" height="6" viewBox="0 0 9 6"><path d="M1 1 L4.5 4.5 L8 1" stroke="#c8c8c8" stroke-width="1.4" fill="none"/></svg>
<svg style="left:1053px;top:161.5px;" width="15" height="14" viewBox="0 0 15 14"><path d="M0.5 0.5 H12 L7.5 6 V12.5 L5 10.5 V6 Z" fill="#d8d8d8"/><circle cx="12" cy="11" r="2.2" stroke="#d8d8d8" stroke-width="1" fill="#242424"/></svg>
<svg style="left:1077.2px;top:161px;" width="14" height="14" viewBox="0 0 14 14"><circle cx="7" cy="7" r="6" stroke="#e0e0e0" stroke-width="1.5" fill="none"/><path d="M6.8 3.5 V7.3 L9 9.5" stroke="#e0e0e0" stroke-width="1.5" fill="none"/></svg>
<div class="b" style="left:679px;top:182.8px;width:415px;height:19px;background:#0f0f0f;border-radius:3px;border:1px solid #2e2e2e;box-sizing:border-box;"></div>
<div class="t" style="left:689.5px;top:186.30px;font-size:11.7px;color:#d8d8d8;">All</div>
<svg style="left:715.5px;top:187.5px;" width="6" height="10" viewBox="0 0 6 10"><path d="M1 1 L5 5 L1 9" stroke="#e0e0e0" stroke-width="1.5" fill="none"/></svg>
<div class="b" style="left:677px;top:205.5px;width:409px;height:389.5px;background:#151515;"></div>
<div class="b" style="left:677px;top:205.5px;width:409px;height:21px;background:#333333;"></div>
<div class="b" style="left:948px;top:205.5px;width:1.2px;height:21px;background:#262626;"></div>
<div class="b" style="left:1017.3px;top:205.5px;width:1.2px;height:21px;background:#262626;"></div>
<div class="t" style="left:679.9px;top:209.80px;font-size:11.7px;color:#c8c8c8;">Hierarchy</div>
<div class="t" style="right:85.30px;top:209.80px;font-size:11.7px;color:#c8c8c8;">Size A</div>
<div class="t" style="right:16.60px;top:209.80px;font-size:11.7px;color:#c8c8c8;">Budget</div>
<div class="b" style="left:1086px;top:205.5px;width:10px;height:389.5px;background:#242424;"></div>
<div class="b" style="left:1088px;top:208px;width:6px;height:81px;background:#3c3c3c;border-radius:3px;"></div>
<div class="b" style="left:677px;top:226.5px;width:409px;height:368.5px;overflow:hidden;">
<svg style="left:2px;top:5.5px" width="10" height="7" viewBox="0 0 10 7"><path d="M0 0 H9 L4.5 6 Z" fill="#6a6a6a"/></svg>
<svg style="left:13px;top:4.800000000000011px" width="11" height="8" viewBox="0 0 11 8"><path d="M0 0 H4 L5 1.2 H11 V7.3 H0 Z" fill="#d6b676"/><path d="M0 2 H11" stroke="#a88a50" stroke-width="0.6"/></svg>
<div class="t" style="left:25.50px;top:2.00px;font-size:11.7px;color:#d8b878;">All <span style="color:#9a9a9a">(181)</span></div>
<div class="t" style="right:70.50px;top:2.00px;font-size:11.7px;color:#e0c080;">15.13 GiB</div>
<svg style="left:22.00px;top:17.31px" width="11" height="11" viewBox="0 0 11 11"><rect x="0" y="2.3" width="8" height="8.2" rx="0.6" fill="#4c4c4c"/><circle cx="6" cy="3" r="2" fill="#151515"/><path d="M5.6 4 A2.3 2.3 0 1 1 9.6 4.2" stroke="#4c4c4c" stroke-width="0.9" fill="none"/><path d="M1.3 7 H6.5 M1.3 8.8 H6.5" stroke="#151515" stroke-width="0.7"/></svg>
<div class="t" style="left:34.00px;top:15.71px;font-size:11.7px;color:#d4d4d4;">AbilitySystem</div>
<div class="t" style="right:70.50px;top:15.71px;font-size:11.7px;color:#d4d4d4;">312.78 KiB</div>
<svg style="left:22.00px;top:31.02px" width="11" height="11" viewBox="0 0 11 11"><rect x="0" y="2.3" width="8" height="8.2" rx="0.6" fill="#4c4c4c"/><circle cx="6" cy="3" r="2" fill="#151515"/><path d="M5.6 4 A2.3 2.3 0 1 1 9.6 4.2" stroke="#4c4c4c" stroke-width="0.9" fill="none"/><path d="M1.3 7 H6.5 M1.3 8.8 H6.5" stroke="#151515" stroke-width="0.7"/></svg>
<div class="t" style="left:34.00px;top:29.42px;font-size:11.7px;color:#d4d4d4;">Analytics</div>
<div class="t" style="right:70.50px;top:29.42px;font-size:11.7px;color:#d4d4d4;">500.68 KiB</div>
<svg style="left:22.00px;top:44.73px" width="11" height="11" viewBox="0 0 11 11"><rect x="0" y="2.3" width="8" height="8.2" rx="0.6" fill="#5cbaa4"/><circle cx="6" cy="3" r="2" fill="#151515"/><path d="M5.6 4 A2.3 2.3 0 1 1 9.6 4.2" stroke="#5cbaa4" stroke-width="0.9" fill="none"/><path d="M1.3 7 H6.5 M1.3 8.8 H6.5" stroke="#151515" stroke-width="0.7"/></svg>
<div class="t" style="left:34.00px;top:43.13px;font-size:11.7px;color:#5cbaa4;">Animation</div>
<div class="t" style="right:70.50px;top:43.13px;font-size:11.7px;color:#62b84a;">8.08 MiB</div>
<div class="t" style="right:2.30px;top:43.13px;font-size:11.7px;color:#d4d4d4;">90 MiB</div>
<svg style="left:22.00px;top:58.44px" width="11" height="11" viewBox="0 0 11 11"><rect x="0" y="2.3" width="8" height="8.2" rx="0.6" fill="#4c4c4c"/><circle cx="6" cy="3" r="2" fill="#151515"/><path d="M5.6 4 A2.3 2.3 0 1 1 9.6 4.2" stroke="#4c4c4c" stroke-width="0.9" fill="none"/><path d="M1.3 7 H6.5 M1.3 8.8 H6.5" stroke="#151515" stroke-width="0.7"/></svg>
<div class="t" style="left:34.00px;top:56.84px;font-size:11.7px;color:#d4d4d4;">Animation/ControlRig</div>
<div class="t" style="right:70.50px;top:56.84px;font-size:11.7px;color:#d4d4d4;">208 B</div>
<svg style="left:22.00px;top:72.15px" width="11" height="11" viewBox="0 0 11 11"><rect x="0" y="2.3" width="8" height="8.2" rx="0.6" fill="#4c4c4c"/><circle cx="6" cy="3" r="2" fill="#151515"/><path d="M5.6 4 A2.3 2.3 0 1 1 9.6 4.2" stroke="#4c4c4c" stroke-width="0.9" fill="none"/><path d="M1.3 7 H6.5 M1.3 8.8 H6.5" stroke="#151515" stroke-width="0.7"/></svg>
<div class="t" style="left:34.00px;top:70.55px;font-size:11.7px;color:#d4d4d4;">Animation/FBIK</div>
<div class="t" style="right:70.50px;top:70.55px;font-size:11.7px;color:#d4d4d4;">96 B</div>
<svg style="left:22.00px;top:85.86px" width="11" height="11" viewBox="0 0 11 11"><rect x="0" y="2.3" width="8" height="8.2" rx="0.6" fill="#4c4c4c"/><circle cx="6" cy="3" r="2" fill="#151515"/><path d="M5.6 4 A2.3 2.3 0 1 1 9.6 4.2" stroke="#4c4c4c" stroke-width="0.9" fill="none"/><path d="M1.3 7 H6.5 M1.3 8.8 H6.5" stroke="#151515" stroke-width="0.7"/></svg>
<div class="t" style="left:34.00px;top:84.26px;font-size:11.7px;color:#d4d4d4;">Animation/SequenceData</div>
<div class="t" style="right:70.50px;top:84.26px;font-size:11.7px;color:#d4d4d4;">7.88 MiB</div>
<svg style="left:22.00px;top:99.57px" width="11" height="11" viewBox="0 0 11 11"><rect x="0" y="2.3" width="8" height="8.2" rx="0.6" fill="#4c4c4c"/><circle cx="6" cy="3" r="2" fill="#151515"/><path d="M5.6 4 A2.3 2.3 0 1 1 9.6 4.2" stroke="#4c4c4c" stroke-width="0.9" fill="none"/><path d="M1.3 7 H6.5 M1.3 8.8 H6.5" stroke="#151515" stroke-width="0.7"/></svg>
<div class="t" style="left:34.00px;top:97.97px;font-size:11.7px;color:#d4d4d4;">AntiCheat</div>
<div class="t" style="right:70.50px;top:97.97px;font-size:11.7px;color:#d4d4d4;">19.59 KiB</div>
<svg style="left:22.00px;top:113.28px" width="11" height="11" viewBox="0 0 11 11"><rect x="0" y="2.3" width="8" height="8.2" rx="0.6" fill="#4c4c4c"/><circle cx="6" cy="3" r="2" fill="#151515"/><path d="M5.6 4 A2.3 2.3 0 1 1 9.6 4.2" stroke="#4c4c4c" stroke-width="0.9" fill="none"/><path d="M1.3 7 H6.5 M1.3 8.8 H6.5" stroke="#151515" stroke-width="0.7"/></svg>
<div class="t" style="left:34.00px;top:111.68px;font-size:11.7px;color:#d4d4d4;">AntiCheat/PropertyValidation</div>
<div class="t" style="right:70.50px;top:111.68px;font-size:11.7px;color:#d4d4d4;">19.59 KiB</div>
<svg style="left:22.00px;top:126.99px" width="11" height="11" viewBox="0 0 11 11"><rect x="0" y="2.3" width="8" height="8.2" rx="0.6" fill="#4c4c4c"/><circle cx="6" cy="3" r="2" fill="#151515"/><path d="M5.6 4 A2.3 2.3 0 1 1 9.6 4.2" stroke="#4c4c4c" stroke-width="0.9" fill="none"/><path d="M1.3 7 H6.5 M1.3 8.8 H6.5" stroke="#151515" stroke-width="0.7"/></svg>
<div class="t" style="left:34.00px;top:125.39px;font-size:11.7px;color:#d4d4d4;">AssetManager</div>
<div class="t" style="right:70.50px;top:125.39px;font-size:11.7px;color:#62b84a;">558.75 KiB</div>
<div class="t" style="right:2.30px;top:125.39px;font-size:11.7px;color:#d4d4d4;">30 MiB</div>
<svg style="left:22.00px;top:140.70px" width="11" height="11" viewBox="0 0 11 11"><rect x="0" y="2.3" width="8" height="8.2" rx="0.6" fill="#4c4c4c"/><circle cx="6" cy="3" r="2" fill="#151515"/><path d="M5.6 4 A2.3 2.3 0 1 1 9.6 4.2" stroke="#4c4c4c" stroke-width="0.9" fill="none"/><path d="M1.3 7 H6.5 M1.3 8.8 H6.5" stroke="#151515" stroke-width="0.7"/></svg>
<div class="t" style="left:34.00px;top:139.10px;font-size:11.7px;color:#d4d4d4;">AssetRegistry</div>
<div class="t" style="right:70.50px;top:139.10px;font-size:11.7px;color:#62b84a;">181.49 MiB</div>
<div class="t" style="right:2.30px;top:139.10px;font-size:11.7px;color:#d4d4d4;">200 MiB</div>
<svg style="left:22.00px;top:154.41px" width="11" height="11" viewBox="0 0 11 11"><rect x="0" y="2.3" width="8" height="8.2" rx="0.6" fill="#4c4c4c"/><circle cx="6" cy="3" r="2" fill="#151515"/><path d="M5.6 4 A2.3 2.3 0 1 1 9.6 4.2" stroke="#4c4c4c" stroke-width="0.9" fill="none"/><path d="M1.3 7 H6.5 M1.3 8.8 H6.5" stroke="#151515" stroke-width="0.7"/></svg>
<div class="t" style="left:34.00px;top:152.81px;font-size:11.7px;color:#d4d4d4;">AsyncLoading</div>
<div class="t" style="right:70.50px;top:152.81px;font-size:11.7px;color:#62b84a;">38.89 MiB</div>
<div class="t" style="right:2.30px;top:152.81px;font-size:11.7px;color:#d4d4d4;">225 MiB</div>
<svg style="left:22.00px;top:168.12px" width="11" height="11" viewBox="0 0 11 11"><rect x="0" y="2.3" width="8" height="8.2" rx="0.6" fill="#cc70b8"/><circle cx="6" cy="3" r="2" fill="#151515"/><path d="M5.6 4 A2.3 2.3 0 1 1 9.6 4.2" stroke="#cc70b8" stroke-width="0.9" fill="none"/><path d="M1.3 7 H6.5 M1.3 8.8 H6.5" stroke="#151515" stroke-width="0.7"/></svg>
<div class="t" style="left:34.00px;top:166.52px;font-size:11.7px;color:#cc70b8;">Audio</div>
<div class="t" style="right:70.50px;top:166.52px;font-size:11.7px;color:#62b84a;">21.86 MiB</div>
<div class="t" style="right:2.30px;top:166.52px;font-size:11.7px;color:#d4d4d4;">180 MiB</div>
<svg style="left:22.00px;top:181.83px" width="11" height="11" viewBox="0 0 11 11"><rect x="0" y="2.3" width="8" height="8.2" rx="0.6" fill="#4c4c4c"/><circle cx="6" cy="3" r="2" fill="#151515"/><path d="M5.6 4 A2.3 2.3 0 1 1 9.6 4.2" stroke="#4c4c4c" stroke-width="0.9" fill="none"/><path d="M1.3 7 H6.5 M1.3 8.8 H6.5" stroke="#151515" stroke-width="0.7"/></svg>
<div class="t" style="left:34.00px;top:180.23px;font-size:11.7px;color:#d4d4d4;">Audio/AudioMisc</div>
<div class="t" style="right:70.50px;top:180.23px;font-size:11.7px;color:#d4d4d4;">180.85 KiB</div>
<svg style="left:22.00px;top:195.54px" width="11" height="11" viewBox="0 0 11 11"><rect x="0" y="2.3" width="8" height="8.2" rx="0.6" fill="#4c4c4c"/><circle cx="6" cy="3" r="2" fill="#151515"/><path d="M5.6 4 A2.3 2.3 0 1 1 9.6 4.2" stroke="#4c4c4c" stroke-width="0.9" fill="none"/><path d="M1.3 7 H6.5 M1.3 8.8 H6.5" stroke="#151515" stroke-width="0.7"/></svg>
<div class="t" style="left:34.00px;top:193.94px;font-size:11.7px;color:#d4d4d4;">Audio/AudioMixer</div>
<div class="t" style="right:70.50px;top:193.94px;font-size:11.7px;color:#d4d4d4;">11.1 MiB</div>
<svg style="left:22.00px;top:209.25px" width="11" height="11" viewBox="0 0 11 11"><rect x="0" y="2.3" width="8" height="8.2" rx="0.6" fill="#4c4c4c"/><circle cx="6" cy="3" r="2" fill="#151515"/><path d="M5.6 4 A2.3 2.3 0 1 1 9.6 4.2" stroke="#4c4c4c" stroke-width="0.9" fill="none"/><path d="M1.3 7 H6.5 M1.3 8.8 H6.5" stroke="#151515" stroke-width="0.7"/></svg>
<div class="t" style="left:34.00px;top:207.65px;font-size:11.7px;color:#d4d4d4;">Audio/AudioMixerPlugins</div>
<div class="t" style="right:70.50px;top:207.65px;font-size:11.7px;color:#d4d4d4;">11.7 KiB</div>
<svg style="left:22.00px;top:222.96px" width="11" height="11" viewBox="0 0 11 11"><rect x="0" y="2.3" width="8" height="8.2" rx="0.6" fill="#4c4c4c"/><circle cx="6" cy="3" r="2" fill="#151515"/><path d="M5.6 4 A2.3 2.3 0 1 1 9.6 4.2" stroke="#4c4c4c" stroke-width="0.9" fill="none"/><path d="M1.3 7 H6.5 M1.3 8.8 H6.5" stroke="#151515" stroke-width="0.7"/></svg>
<div class="t" style="left:34.00px;top:221.36px;font-size:11.7px;color:#d4d4d4;">Audio/AudioPrecache</div>
<div class="t" style="right:70.50px;top:221.36px;font-size:11.7px;color:#d4d4d4;">4.58 KiB</div>
<svg style="left:22.00px;top:236.67px" width="11" height="11" viewBox="0 0 11 11"><rect x="0" y="2.3" width="8" height="8.2" rx="0.6" fill="#4c4c4c"/><circle cx="6" cy="3" r="2" fill="#151515"/><path d="M5.6 4 A2.3 2.3 0 1 1 9.6 4.2" stroke="#4c4c4c" stroke-width="0.9" fill="none"/><path d="M1.3 7 H6.5 M1.3 8.8 H6.5" stroke="#151515" stroke-width="0.7"/></svg>
<div class="t" style="left:34.00px;top:235.07px;font-size:11.7px;color:#d4d4d4;">Audio/AudioRealtimePrecache</div>
<div class="t" style="right:70.50px;top:235.07px;font-size:11.7px;color:#d4d4d4;">0</div>
<svg style="left:22.00px;top:250.38px" width="11" height="11" viewBox="0 0 11 11"><rect x="0" y="2.3" width="8" height="8.2" rx="0.6" fill="#4c4c4c"/><circle cx="6" cy="3" r="2" fill="#151515"/><path d="M5.6 4 A2.3 2.3 0 1 1 9.6 4.2" stroke="#4c4c4c" stroke-width="0.9" fill="none"/><path d="M1.3 7 H6.5 M1.3 8.8 H6.5" stroke="#151515" stroke-width="0.7"/></svg>
<div class="t" style="left:34.00px;top:248.78px;font-size:11.7px;color:#d4d4d4;">Audio/AudioSoundWaveProxies</div>
<div class="t" style="right:70.50px;top:248.78px;font-size:11.7px;color:#d4d4d4;">50.26 KiB</div>
<svg style="left:22.00px;top:264.09px" width="11" height="11" viewBox="0 0 11 11"><rect x="0" y="2.3" width="8" height="8.2" rx="0.6" fill="#4c4c4c"/><circle cx="6" cy="3" r="2" fill="#151515"/><path d="M5.6 4 A2.3 2.3 0 1 1 9.6 4.2" stroke="#4c4c4c" stroke-width="0.9" fill="none"/><path d="M1.3 7 H6.5 M1.3 8.8 H6.5" stroke="#151515" stroke-width="0.7"/></svg>
<div class="t" style="left:34.00px;top:262.49px;font-size:11.7px;color:#d4d4d4;">Audio/AudioSoundWaves</div>
<div class="t" style="right:70.50px;top:262.49px;font-size:11.7px;color:#d4d4d4;">1.54 MiB</div>
<svg style="left:22.00px;top:277.80px" width="11" height="11" viewBox="0 0 11 11"><rect x="0" y="2.3" width="8" height="8.2" rx="0.6" fill="#4c4c4c"/><circle cx="6" cy="3" r="2" fill="#151515"/><path d="M5.6 4 A2.3 2.3 0 1 1 9.6 4.2" stroke="#4c4c4c" stroke-width="0.9" fill="none"/><path d="M1.3 7 H6.5 M1.3 8.8 H6.5" stroke="#151515" stroke-width="0.7"/></svg>
<div class="t" style="left:34.00px;top:276.20px;font-size:11.7px;color:#d4d4d4;">Audio/AudioStreamCache</div>
<div class="t" style="right:70.50px;top:276.20px;font-size:11.7px;color:#d4d4d4;">2.47 MiB</div>
<svg style="left:22.00px;top:291.51px" width="11" height="11" viewBox="0 0 11 11"><rect x="0" y="2.3" width="8" height="8.2" rx="0.6" fill="#4c4c4c"/><circle cx="6" cy="3" r="2" fill="#151515"/><path d="M5.6 4 A2.3 2.3 0 1 1 9.6 4.2" stroke="#4c4c4c" stroke-width="0.9" fill="none"/><path d="M1.3 7 H6.5 M1.3 8.8 H6.5" stroke="#151515" stroke-width="0.7"/></svg>
<div class="t" style="left:34.00px;top:289.91px;font-size:11.7px;color:#d4d4d4;">Audio/AudioStreamCacheCompressedData</div>
<div class="t" style="right:70.50px;top:289.91px;font-size:11.7px;color:#d4d4d4;">2.76 MiB</div>
<svg style="left:22.00px;top:305.22px" width="11" height="11" viewBox="0 0 11 11"><rect x="0" y="2.3" width="8" height="8.2" rx="0.6" fill="#4c4c4c"/><circle cx="6" cy="3" r="2" fill="#151515"/><path d="M5.6 4 A2.3 2.3 0 1 1 9.6 4.2" stroke="#4c4c4c" stroke-width="0.9" fill="none"/><path d="M1.3 7 H6.5 M1.3 8.8 H6.5" stroke="#151515" stroke-width="0.7"/></svg>
<div class="t" style="left:34.00px;top:303.62px;font-size:11.7px;color:#d4d4d4;">Audio/MetaSound</div>
<div class="t" style="right:70.50px;top:303.62px;font-size:11.7px;color:#d4d4d4;">3.75 MiB</div>
<svg style="left:22.00px;top:318.93px" width="11" height="11" viewBox="0 0 11 11"><rect x="0" y="2.3" width="8" height="8.2" rx="0.6" fill="#4c4c4c"/><circle cx="6" cy="3" r="2" fill="#151515"/><path d="M5.6 4 A2.3 2.3 0 1 1 9.6 4.2" stroke="#4c4c4c" stroke-width="0.9" fill="none"/><path d="M1.3 7 H6.5 M1.3 8.8 H6.5" stroke="#151515" stroke-width="0.7"/></svg>
<div class="t" style="left:34.00px;top:317.33px;font-size:11.7px;color:#d4d4d4;">Audio/MetaSound/OperatorPool</div>
<div class="t" style="right:70.50px;top:317.33px;font-size:11.7px;color:#d4d4d4;">0</div>
<svg style="left:22.00px;top:332.64px" width="11" height="11" viewBox="0 0 11 11"><rect x="0" y="2.3" width="8" height="8.2" rx="0.6" fill="#4c4c4c"/><circle cx="6" cy="3" r="2" fill="#151515"/><path d="M5.6 4 A2.3 2.3 0 1 1 9.6 4.2" stroke="#4c4c4c" stroke-width="0.9" fill="none"/><path d="M1.3 7 H6.5 M1.3 8.8 H6.5" stroke="#151515" stroke-width="0.7"/></svg>
<div class="t" style="left:34.00px;top:331.04px;font-size:11.7px;color:#d4d4d4;">Audio/SpatializationPlugins</div>
<div class="t" style="right:70.50px;top:331.04px;font-size:11.7px;color:#d4d4d4;">608 B</div>
<svg style="left:22.00px;top:346.35px" width="11" height="11" viewBox="0 0 11 11"><rect x="0" y="2.3" width="8" height="8.2" rx="0.6" fill="#4c4c4c"/><circle cx="6" cy="3" r="2" fill="#151515"/><path d="M5.6 4 A2.3 2.3 0 1 1 9.6 4.2" stroke="#4c4c4c" stroke-width="0.9" fill="none"/><path d="M1.3 7 H6.5 M1.3 8.8 H6.5" stroke="#151515" stroke-width="0.7"/></svg>
<div class="t" style="left:34.00px;top:344.75px;font-size:11.7px;color:#d4d4d4;">AutomationTest</div>
<div class="t" style="right:70.50px;top:344.75px;font-size:11.7px;color:#d4d4d4;">358.22 KiB</div>
<svg style="left:22.00px;top:360.06px" width="11" height="11" viewBox="0 0 11 11"><rect x="0" y="2.3" width="8" height="8.2" rx="0.6" fill="#4c4c4c"/><circle cx="6" cy="3" r="2" fill="#151515"/><path d="M5.6 4 A2.3 2.3 0 1 1 9.6 4.2" stroke="#4c4c4c" stroke-width="0.9" fill="none"/><path d="M1.3 7 H6.5 M1.3 8.8 H6.5" stroke="#151515" stroke-width="0.7"/></svg>
<div class="t" style="left:34.00px;top:358.46px;font-size:11.7px;color:#d4d4d4;">AutomationTest/Framework</div>
<div class="t" style="right:70.50px;top:358.46px;font-size:11.7px;color:#d4d4d4;">357.29 KiB</div>
</div>
<div class="b" style="left:677px;top:595px;width:419px;height:22.4px;background:#242424;"></div>
<div class="t" style="left:688.00px;width:400px;text-align:center;top:601.80px;font-size:11.7px;color:#686868;">No LLM tag selected</div>
<div class="b" style="left:1096px;top:0px;width:1.3px;height:620px;background:#262626;"></div>
<div class="b" style="left:1097.3px;top:0px;width:1.7px;height:620px;background:#1a1a1a;"></div></body></html>
